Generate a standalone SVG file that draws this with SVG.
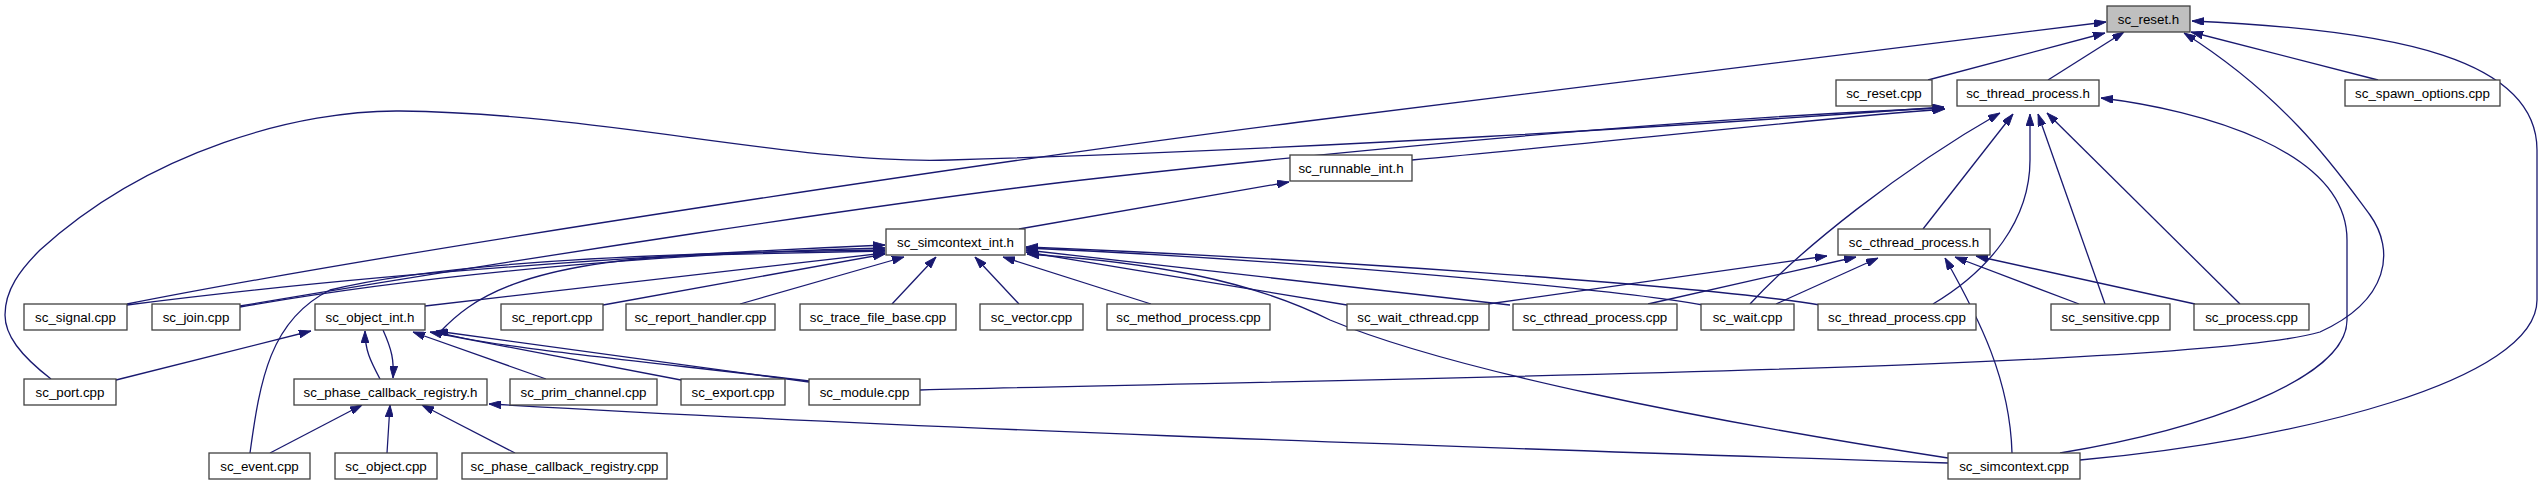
<svg xmlns="http://www.w3.org/2000/svg" width="2544" height="485" viewBox="0 0 2544 485">
<style>
.n rect{fill:#ffffff;stroke:#404040;stroke-width:1.3}
.n.hl rect{fill:#bfbfbf}
.n text{font-family:"Liberation Sans",Arial,sans-serif;font-size:13.33px;fill:#000;text-anchor:middle}
#edges path{fill:none;stroke:#191970;stroke-width:1.3;marker-end:url(#ah)}
</style>
<defs>
<marker id="ah" viewBox="0 0 10 10" refX="10" refY="5" markerWidth="12" markerHeight="8" markerUnits="userSpaceOnUse" orient="auto" preserveAspectRatio="none">
<path d="M0,0 L10,5 L0,10 z" fill="#191970" stroke="#191970"/>
</marker>
</defs>
<rect width="2544" height="485" fill="#ffffff"/>
<g id="edges">
<path d="M1928,80 L2105,33"/>
<path d="M2048,80 L2124,32"/>
<path d="M2378,80 L2191,32"/>
<path d="M127,304 C400,250 1000,160 1300,122 S1900,50 2106,22"/>
<path d="M920,390 C1400,378 2200,368 2320,332 C2390,300 2395,250 2370,215 C2340,175 2290,100 2184,33"/>
<path d="M2080,460 C2300,440 2537,380 2537,300 L2537,150 C2537,60 2400,30 2192,21"/>
<path d="M51,379 C20,355 5,335 5,315 C5,290 20,270 40,250 C150,150 300,110 400,111 C600,113 800,165 950,160 C1300,150 1700,125 1944,107"/>
<path d="M240,306 C500,262 900,200 1100,178 C1400,145 1700,118 1944,108"/>
<path d="M1412,160 C1600,143 1800,120 1945,109"/>
<path d="M1750,304 C1800,250 1900,170 2000,113"/>
<path d="M1923,229 L2013,114"/>
<path d="M1933,304 C1990,270 2030,220 2030,160 L2030,114"/>
<path d="M2105,304 L2038,114"/>
<path d="M2240,304 L2047,113"/>
<path d="M2060,453 C2200,430 2347,380 2347,320 L2347,240 C2347,150 2200,110 2101,98"/>
<path d="M1019,229 L1289,182"/>
<path d="M127,305 C400,270 700,253 885,245"/>
<path d="M240,307 C450,270 700,252 885,248"/>
<path d="M250,453 C260,380 270,320 330,290 C450,260 700,252 885,250"/>
<path d="M425,306 L885,253"/>
<path d="M603,305 L885,254"/>
<path d="M809,381 C650,362 470,345 440,332 C470,300 520,262 700,255 L885,251"/>
<path d="M740,304 L904,257"/>
<path d="M892,304 L936,257"/>
<path d="M1019,304 L975,257"/>
<path d="M1151,304 L1003,257"/>
<path d="M1347,305 L1026,252"/>
<path d="M1510,305 L1026,250"/>
<path d="M1703,305 C1620,290 1300,260 1026,248"/>
<path d="M1820,305 C1700,285 1300,258 1026,247"/>
<path d="M1948,458 C1700,420 1450,370 1330,320 C1250,280 1150,262 1027,254"/>
<path d="M1488,304 L1827,256"/>
<path d="M1648,304 L1856,257"/>
<path d="M1776,304 L1878,258"/>
<path d="M2012,453 C2010,380 1980,320 1945,258"/>
<path d="M2079,304 L1955,257"/>
<path d="M2195,304 L1976,256"/>
<path d="M116,380 L311,331"/>
<path d="M380,379 C370,360 365,350 365,331"/>
<path d="M546,379 L413,332"/>
<path d="M681,380 L430,332"/>
<path d="M809,382 L436,331"/>
<path d="M383,330 C392,350 394,360 393,378"/>
<path d="M270,453 L362,405"/>
<path d="M387,453 L390,405"/>
<path d="M515,453 L422,405"/>
<path d="M1948,463 C1400,445 900,428 489,404"/>
</g>
<g id="sc_reset_h" class="n hl"><rect x="2107" y="6" width="83" height="26"/><text x="2148.5" y="23.5">sc_reset.h</text></g>
<g id="sc_reset_cpp" class="n"><rect x="1836" y="80" width="96" height="26"/><text x="1884" y="97.5">sc_reset.cpp</text></g>
<g id="sc_thread_process_h" class="n"><rect x="1957" y="80" width="142" height="26"/><text x="2028" y="97.5">sc_thread_process.h</text></g>
<g id="sc_spawn_options_cpp" class="n"><rect x="2345" y="80" width="155" height="26"/><text x="2422.5" y="97.5">sc_spawn_options.cpp</text></g>
<g id="sc_runnable_int_h" class="n"><rect x="1290" y="155" width="122" height="26"/><text x="1351" y="172.5">sc_runnable_int.h</text></g>
<g id="sc_simcontext_int_h" class="n"><rect x="886" y="229" width="139" height="26"/><text x="955.5" y="246.5">sc_simcontext_int.h</text></g>
<g id="sc_cthread_process_h" class="n"><rect x="1838" y="229" width="152" height="26"/><text x="1914" y="246.5">sc_cthread_process.h</text></g>
<g id="sc_signal_cpp" class="n"><rect x="24" y="304" width="103" height="26"/><text x="75.5" y="321.5">sc_signal.cpp</text></g>
<g id="sc_join_cpp" class="n"><rect x="152" y="304" width="88" height="26"/><text x="196" y="321.5">sc_join.cpp</text></g>
<g id="sc_object_int_h" class="n"><rect x="315" y="304" width="110" height="26"/><text x="370" y="321.5">sc_object_int.h</text></g>
<g id="sc_report_cpp" class="n"><rect x="501" y="304" width="102" height="26"/><text x="552" y="321.5">sc_report.cpp</text></g>
<g id="sc_report_handler_cpp" class="n"><rect x="626" y="304" width="149" height="26"/><text x="700.5" y="321.5">sc_report_handler.cpp</text></g>
<g id="sc_trace_file_base_cpp" class="n"><rect x="800" y="304" width="156" height="26"/><text x="878" y="321.5">sc_trace_file_base.cpp</text></g>
<g id="sc_vector_cpp" class="n"><rect x="980" y="304" width="103" height="26"/><text x="1031.5" y="321.5">sc_vector.cpp</text></g>
<g id="sc_method_process_cpp" class="n"><rect x="1107" y="304" width="163" height="26"/><text x="1188.5" y="321.5">sc_method_process.cpp</text></g>
<g id="sc_wait_cthread_cpp" class="n"><rect x="1347" y="304" width="142" height="26"/><text x="1418" y="321.5">sc_wait_cthread.cpp</text></g>
<g id="sc_cthread_process_cpp" class="n"><rect x="1513" y="304" width="164" height="26"/><text x="1595" y="321.5">sc_cthread_process.cpp</text></g>
<g id="sc_wait_cpp" class="n"><rect x="1701" y="304" width="93" height="26"/><text x="1747.5" y="321.5">sc_wait.cpp</text></g>
<g id="sc_thread_process_cpp" class="n"><rect x="1818" y="304" width="158" height="26"/><text x="1897" y="321.5">sc_thread_process.cpp</text></g>
<g id="sc_sensitive_cpp" class="n"><rect x="2051" y="304" width="119" height="26"/><text x="2110.5" y="321.5">sc_sensitive.cpp</text></g>
<g id="sc_process_cpp" class="n"><rect x="2194" y="304" width="115" height="26"/><text x="2251.5" y="321.5">sc_process.cpp</text></g>
<g id="sc_port_cpp" class="n"><rect x="24" y="379" width="92" height="26"/><text x="70" y="396.5">sc_port.cpp</text></g>
<g id="sc_phase_callback_registry_h" class="n"><rect x="294" y="379" width="193" height="26"/><text x="390.5" y="396.5">sc_phase_callback_registry.h</text></g>
<g id="sc_prim_channel_cpp" class="n"><rect x="510" y="379" width="147" height="26"/><text x="583.5" y="396.5">sc_prim_channel.cpp</text></g>
<g id="sc_export_cpp" class="n"><rect x="681" y="379" width="104" height="26"/><text x="733" y="396.5">sc_export.cpp</text></g>
<g id="sc_module_cpp" class="n"><rect x="809" y="379" width="111" height="26"/><text x="864.5" y="396.5">sc_module.cpp</text></g>
<g id="sc_event_cpp" class="n"><rect x="209" y="453" width="101" height="26"/><text x="259.5" y="470.5">sc_event.cpp</text></g>
<g id="sc_object_cpp" class="n"><rect x="335" y="453" width="102" height="26"/><text x="386" y="470.5">sc_object.cpp</text></g>
<g id="sc_phase_callback_registry_cpp" class="n"><rect x="462" y="453" width="205" height="26"/><text x="564.5" y="470.5">sc_phase_callback_registry.cpp</text></g>
<g id="sc_simcontext_cpp" class="n"><rect x="1948" y="453" width="132" height="26"/><text x="2014" y="470.5">sc_simcontext.cpp</text></g>
</svg>
